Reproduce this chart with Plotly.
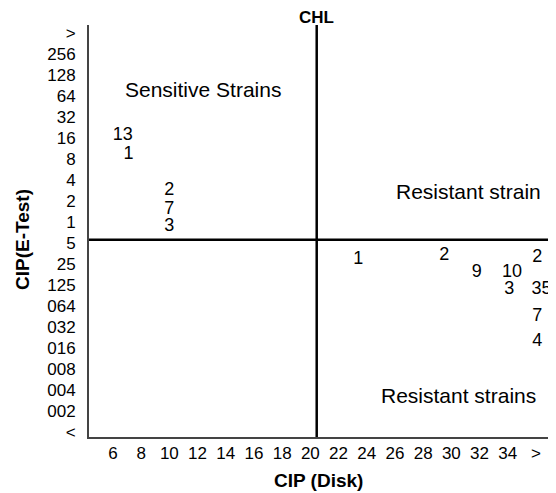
import plotly.graph_objects as go

# E-test MIC categories, bottom to top (as printed on the chart)
etest_labels = ["<", "002", "004", "008", "016", "032", "064", "125", "25", "5",
                "1", "2", "4", "8", "16", "32", "64", "128", "256", ">"]
# disk zone categories, left to right
disk_labels = ["6", "8", "10", "12", "14", "16", "18", "20", "22", "24",
               "26", "28", "30", "32", "34", ">"]
disk_vals = [6, 8, 10, 12, 14, 16, 18, 20, 22, 24, 26, 28, 30, 32, 34, 36]

# strain counts, x = disk zone, y = E-test row index
count_x = [6.7, 7.1, 10.0, 10.0, 10.0,
           23.4, 29.5, 31.8, 34.3, 34.1, 36.1, 36.4, 36.1, 36.1]
count_y = [14.1, 13.2, 11.5, 10.6, 9.8,
           8.2, 8.4, 7.6, 7.6, 6.8, 8.3, 6.8, 5.5, 4.3]
count_txt = ["13", "1", "2", "7", "3",
             "1", "2", "9", "10", "3", "2", "35", "7", "4"]

disk_cut = 20.45
etest_cut = 9.15

arial = "Liberation Sans, Arial, sans-serif"

# the page body adds 8px on the left/top, so the figure is drawn 8px smaller
W, H = 548, 485
ML, MR, MT, MB = 81, 1, 17, 56
plot_w = W - ML - MR
plot_h = H - MT - MB


def px_x(page_x):
    return (page_x - 8 - ML) / plot_w


def px_y(page_y):
    return (H - MB - (page_y - 8)) / plot_h


fig = go.Figure()
fig.add_trace(go.Scatter(
    x=count_x, y=count_y, text=count_txt, mode="text", cliponaxis=False,
    textfont=dict(family=arial, size=18, color="black"),
    hoverinfo="skip", showlegend=False,
))

# quadrant lines
fig.add_shape(type="line", xref="x", yref="paper", x0=disk_cut, x1=disk_cut,
              y0=0, y1=1, line=dict(color="black", width=2.5))
fig.add_shape(type="line", xref="paper", yref="y", x0=0, x1=1.0,
              y0=etest_cut, y1=etest_cut, line=dict(color="black", width=2.5))

notes = [
    ("Sensitive Strains", 12.4, 16.3),
    ("Resistant strain", 31.25, 11.45),
    ("Resistant strains", 30.5, 1.75),
]
for txt, nx, ny in notes:
    fig.add_annotation(x=nx, y=ny, text=txt, showarrow=False,
                       font=dict(family=arial, size=21, color="black"))

fig.add_annotation(x=disk_cut, y=px_y(17), xref="x", yref="paper",
                   xanchor="center", yanchor="middle",
                   text="<b>CHL</b>", showarrow=False,
                   font=dict(family=arial, size=17, color="black"))
# axis titles, placed in pixels of the page
fig.add_annotation(x=px_x(318), y=px_y(480), xref="paper", yref="paper",
                   xanchor="center", yanchor="middle", text="<b>CIP (Disk)</b>",
                   showarrow=False, font=dict(family=arial, size=19, color="black"))
fig.add_annotation(x=px_x(22), y=px_y(240), xref="paper", yref="paper",
                   xanchor="center", yanchor="middle", text="<b>CIP(E-Test)</b>",
                   textangle=-90, showarrow=False,
                   font=dict(family=arial, size=19, color="black"))

fig.update_xaxes(
    range=[4.3, 37.35], tickvals=disk_vals, ticktext=disk_labels,
    showgrid=False, zeroline=False, showline=True, linecolor="#444",
    linewidth=2, ticks="", automargin=False,
    tickfont=dict(family=arial, size=17, color="black"),
)
fig.update_yaxes(
    range=[-0.24, 19.38], tickvals=list(range(len(etest_labels))),
    ticktext=etest_labels, showgrid=False, zeroline=False, showline=True,
    linecolor="#444", linewidth=2, ticks="", ticklabelstandoff=8, automargin=False,
    tickfont=dict(family=arial, size=17, color="black"),
)
fig.update_layout(
    width=W, height=H,
    margin=dict(l=ML, r=MR, t=MT, b=MB),
    plot_bgcolor="white", paper_bgcolor="white",
)
fig.write_html("out.html")
